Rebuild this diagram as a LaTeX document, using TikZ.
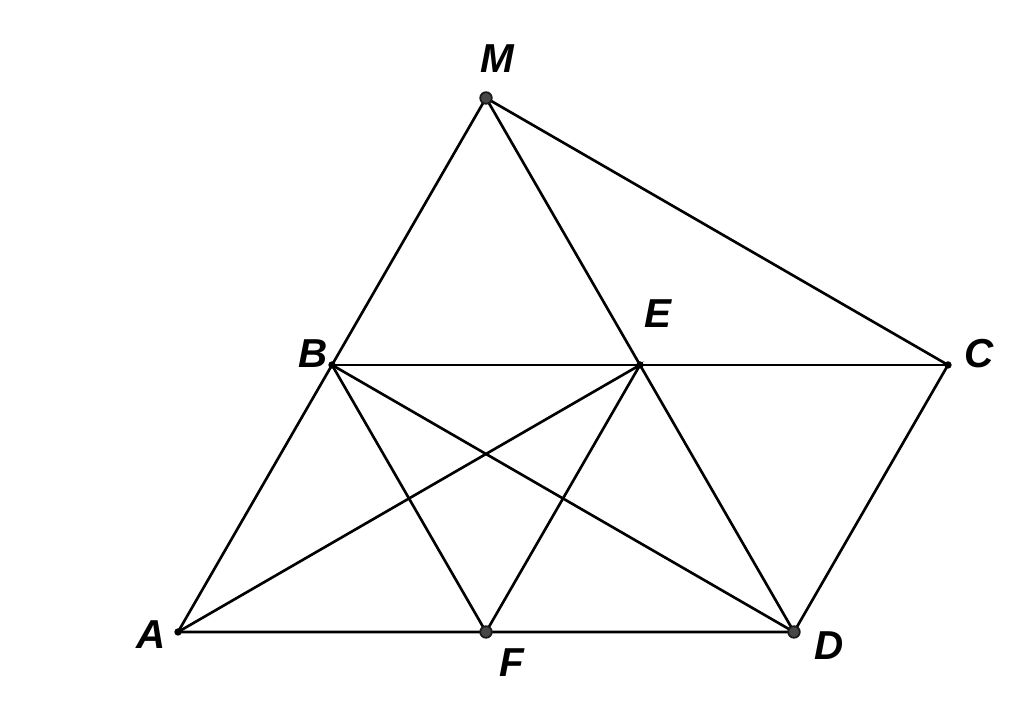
\documentclass[tikz,border=0pt]{standalone}
\usepackage{fontspec}
\setmainfont{Liberation Sans}
\usepackage{tikz}

\tikzset{
  lbl/.style={font=\fontsize{11.5}{13}\selectfont\bfseries\itshape, inner sep=0pt},
  bigpt/.style={fill=black!72, draw=black!90, line width=.5pt},
}

\begin{document}
\begin{tikzpicture}[line width=.75pt]
    \useasboundingbox (0,0) rectangle (10.24,7.2);
    \coordinate (A) at (1.78, .88);
    \coordinate (F) at (4.86, .88);
    \coordinate (D) at (7.94, .88);
    \coordinate (B) at (3.32, 3.55);
    \coordinate (E) at (6.40, 3.55);
    \coordinate (C) at (9.48, 3.55);
    \coordinate (M) at (4.86, 6.22);
    \draw (M) -- (B) -- (A) -- (D) -- (C) -- (M) -- (D);
    \draw (B) -- (C);
    \draw (B) -- (F) -- (E) -- (A);
    \draw (B) -- (D);
    \foreach \p in {A, B, E, C}{
      \fill (\p) circle (.037);
    }
    \foreach \p in {M, F, D}{
      \draw[bigpt] (\p) circle (.058);
    }
    \node[lbl] (lM) at (4.97, 6.61) {M};
    \node[lbl] (lE) at (6.58, 4.06) {E};
    \node[lbl] (lC) at (9.79, 3.66) {C};
    \node[lbl] (lB) at (3.13, 3.66) {B};
    \node[lbl] (lA) at (1.51, .85) {A};
    \node[lbl] (lD) at (8.29, .74) {D};
    \node[lbl] (lF) at (5.12, .57) {F};
  \end{tikzpicture}
\end{document}
